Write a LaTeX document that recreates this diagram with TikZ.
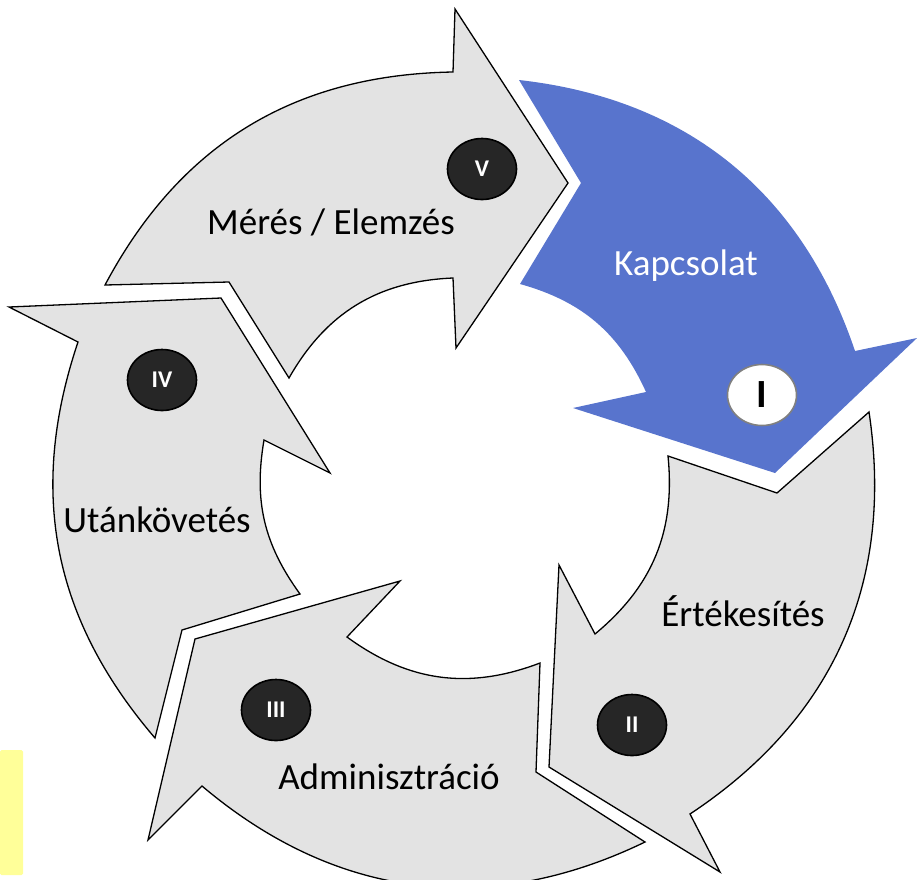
\documentclass[tikz,border=0pt]{standalone}
\usepackage{fontspec}
\setmainfont{Carlito}
\usetikzlibrary{shapes.geometric}
\definecolor{stagegrey}{RGB}{227,227,227}
\definecolor{stageblue}{RGB}{88,116,205}
\definecolor{badgedark}{RGB}{38,38,38}
\definecolor{badgerim}{RGB}{128,128,128}
\definecolor{notepad}{RGB}{255,255,153}
\tikzset{
  stage/.style={fill=stagegrey, draw=black, line width=1.3pt, line join=miter},
  activestage/.style={fill=stageblue, draw=none},
  badge/.style={ellipse, minimum width=69pt, minimum height=61pt, inner sep=0pt,
    fill=badgedark, draw=black, line width=1.6pt, text=white,
    font=\fontsize{24}{28}\selectfont\bfseries},
  activebadge/.style={badge, fill=white, draw=badgerim, text=black,
    font=\fontsize{40}{44}\selectfont\bfseries},
  label/.style={font=\fontsize{37}{44}\selectfont, inner sep=0pt},
}
\begin{document}
\begin{tikzpicture}[x=1pt, y=-1pt]
\useasboundingbox (0,0) rectangle (917,879);

% V: measuring / analysis
\draw[stage] (105,285) -- (229,282) -- (289,378)
  to[bend left=29] (453,278) -- (456,348) -- (568,183) -- (455,9) -- (453,72)
  to[bend right=30.5] (105,285) -- cycle;

% I: contact (highlighted)
\fill[activestage] (519,80) -- (581,183) -- (520,284)
  to[bend left=25] (646,392) -- (573,408) -- (775,473) -- (917,338) -- (855,351)
  to[bend right=32.5] (519,80) -- cycle;

% II: sales
\draw[stage] (668,456) -- (777,493) -- (869,412)
  to[bend left=32.5] (690,814) -- (720,872) -- (549,767) -- (559,565) -- (595,634)
  to[bend right=28] (668,456) -- cycle;

% III: administration
\draw[stage] (540,663) -- (536,772) -- (645,842)
  to[bend left=33] (202,786) -- (148,840) -- (195,639) -- (400,581) -- (347,637)
  to[bend right=28.5] (540,663) -- cycle;

% IV: follow-up
\draw[stage] (300,594) -- (182,630) -- (155,738)
  to[bend left=29.6] (78,342) -- (9,307) -- (221,298) -- (330,473) -- (264,440)
  to[bend right=22.8] (300,594) -- cycle;

% stage labels
\node[label] (lblV) at (331,222) {Mérés / Elemzés};
\node[label, text=white] (lblI) at (686,266) {Kapcsolat};
\node[label] (lblII) at (743,611) {Értékesítés};
\node[label] (lblIII) at (389,777) {Adminisztráció};
\node[label] (lblIV) at (157,520) {Utánkövetés};

% numbered badges
\node[badge] (bV) at (482,169) {V};
\node[activebadge] (bI) at (762,395) {I};
\node[badge] (bII) at (632,725) {II};
\node[badge] (bIII) at (276,710) {III};
\node[badge] (bIV) at (162,380) {IV};

% sticky note at the lower left edge
\fill[notepad, rounded corners=1.5pt] (0,750) rectangle (23,875);
\end{tikzpicture}
\end{document}
